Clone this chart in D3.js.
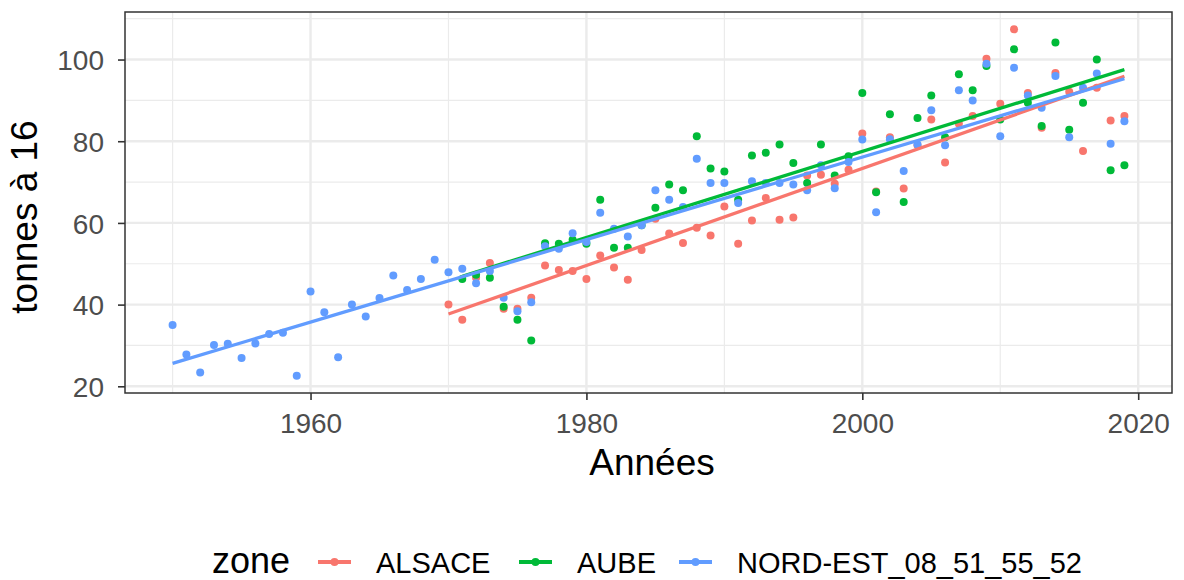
<!DOCTYPE html>
<html>
<head>
<meta charset="utf-8">
<script src="https://cdn.jsdelivr.net/npm/d3@7"></script>
<style>
  body { margin: 0; background: #fff; }
  text { font-family: "Liberation Sans", Arial, sans-serif; }
</style>
</head>
<body>
<svg id="chart" width="1184" height="580"></svg>
<script>
// years and values
const yearsAlsace = d3.range(1970, 2020);
const alsace = [40.0, 36.3, 46.6, 50.2, 39.0, 39.0, 41.7, 49.6, 48.5, 48.2,
  46.3, 52.0, 49.1, 46.1, 53.4, 61.0, 57.4, 55.1, 58.8, 56.9,
  64.0, 54.9, 60.6, 66.1, 60.8, 61.3, 71.6, 71.8, 69.6, 73.0,
  81.9, 67.7, 81.0, 68.4, 79.0, 85.3, 74.8, 84.3, 86.2, 100.2,
  89.2, 107.4, 91.8, 83.3, 96.7, 92.1, 77.6, 93.1, 85.1, 86.2];

const yearsAube = d3.range(1971, 2020);
const aube = [46.3, 47.3, 46.6, 39.5, 36.3, 31.2, 55.0, 54.9, 55.9,
  54.9, 65.7, 53.9, 53.9, 59.4, 63.7, 69.4, 68.0, 81.2, 73.3,
  72.6, 65.7, 76.5, 77.2, 79.2, 74.7, 69.8, 79.2, 71.6, 76.3,
  91.8, 67.5, 86.6, 65.1, 85.7, 91.2, 81.0, 96.4, 92.5, 98.4,
  85.3, 102.5, 89.4, 83.7, 104.2, 82.8, 89.4, 100.0, 72.9, 74.1];

const yearsNordEst = d3.range(1950, 2020);
const nordEst = [35.0, 27.8, 23.4, 30.1, 30.4, 26.9, 30.5, 32.8, 33.1, 22.6,
  43.2, 38.1, 27.1, 40.0, 37.1, 41.6, 47.1, 43.6, 46.3, 51.0,
  47.9, 48.8, 45.2, 48.2, 41.7, 38.4, 40.6, 54.3, 53.7, 57.5,
  55.3, 62.5, 58.6, 56.7, 59.4, 68.0, 65.7, 63.9, 75.7, 69.8,
  69.8, 64.9, 70.2, 69.8, 69.8, 69.4, 68.0, 74.1, 68.5, 74.9,
  80.4, 62.6, 80.5, 72.7, 79.2, 87.6, 79.0, 92.5, 90.0, 99.0,
  81.2, 98.0, 91.2, 88.2, 96.0, 81.0, 93.1, 96.6, 79.4, 84.9];

const zones = ["ALSACE", "AUBE", "NORD-EST_08_51_55_52"];
const colors = ["#F8766D", "#00BA38", "#619CFF"];
const xTicks = [1960, 1980, 2000, 2020];
const yTicks = [20, 40, 60, 80, 100];

const series = [
  { zone: zones[0], pts: yearsAlsace.map((yr, i) => ({ x: yr, y: alsace[i] })) },
  { zone: zones[1], pts: yearsAube.map((yr, i) => ({ x: yr, y: aube[i] })) },
  { zone: zones[2], pts: yearsNordEst.map((yr, i) => ({ x: yr, y: nordEst[i] })) }
];

const svg = d3.select("#chart");
const pLeft = 125, pRight = 1172, pTop = 12, pBottom = 393;

const allPts = series.flatMap(s => s.pts);
const xExt = d3.extent(allPts, d => d.x), yExt = d3.extent(allPts, d => d.y);
const xPad = (xExt[1] - xExt[0]) * 0.05, yPad = (yExt[1] - yExt[0]) * 0.05;
const x = d3.scaleLinear().domain([xExt[0] - xPad, xExt[1] + xPad]).range([pLeft, pRight]);
const y = d3.scaleLinear().domain([yExt[0] - yPad, yExt[1] + yPad]).range([pBottom, pTop]);
const color = d3.scaleOrdinal().domain(zones).range(colors);

// grid
const g = svg.append("g");
const xMinor = [1950, 1970, 1990, 2010], yMinor = [30, 50, 70, 90, 110];
g.selectAll(".xm").data(xMinor).enter().append("line")
  .attr("x1", d => x(d)).attr("x2", d => x(d)).attr("y1", pTop).attr("y2", pBottom)
  .attr("stroke", "#ebebeb").attr("stroke-width", 1.2);
g.selectAll(".ym").data(yMinor.filter(v => y(v) > pTop)).enter().append("line")
  .attr("y1", d => y(d)).attr("y2", d => y(d)).attr("x1", pLeft).attr("x2", pRight)
  .attr("stroke", "#ebebeb").attr("stroke-width", 1.2);
g.selectAll(".xM").data(xTicks).enter().append("line")
  .attr("x1", d => x(d)).attr("x2", d => x(d)).attr("y1", pTop).attr("y2", pBottom)
  .attr("stroke", "#ebebeb").attr("stroke-width", 2.4);
g.selectAll(".yM").data(yTicks).enter().append("line")
  .attr("y1", d => y(d)).attr("y2", d => y(d)).attr("x1", pLeft).attr("x2", pRight)
  .attr("stroke", "#ebebeb").attr("stroke-width", 2.4);

// points
series.forEach(s => {
  svg.append("g").selectAll("circle").data(s.pts).enter().append("circle")
    .attr("cx", d => x(d.x)).attr("cy", d => y(d.y)).attr("r", 4)
    .attr("fill", color(s.zone));
});

// linear fits
series.forEach(s => {
  const mx = d3.mean(s.pts, d => d.x), my = d3.mean(s.pts, d => d.y);
  const b = d3.sum(s.pts, d => (d.x - mx) * (d.y - my)) / d3.sum(s.pts, d => (d.x - mx) ** 2);
  const a = my - b * mx;
  const ends = d3.extent(s.pts, d => d.x).map(v => ({ x: v, y: a + b * v }));
  svg.append("path").datum(ends)
    .attr("d", d3.line().x(d => x(d.x)).y(d => y(d.y)))
    .attr("fill", "none").attr("stroke", color(s.zone)).attr("stroke-width", 3.3);
});

// border
svg.append("rect").attr("x", pLeft).attr("y", pTop).attr("width", pRight - pLeft).attr("height", pBottom - pTop)
  .attr("fill", "none").attr("stroke", "#333").attr("stroke-width", 1.5);

// axes
const xAxis = svg.append("g").attr("transform", `translate(0,${pBottom})`)
  .call(d3.axisBottom(x).tickValues(xTicks).tickFormat(d3.format("d")).tickSize(7).tickPadding(4));
const yAxis = svg.append("g").attr("transform", `translate(${pLeft},0)`)
  .call(d3.axisLeft(y).tickValues(yTicks).tickSize(7).tickPadding(14));
[xAxis, yAxis].forEach(ax => {
  ax.select(".domain").remove();
  ax.selectAll(".tick line").attr("stroke", "#333").attr("stroke-width", 1.6);
  ax.selectAll(".tick text").attr("fill", "#4d4d4d").style("font-size", "28px")
    .style("font-family", "'Liberation Sans', Arial, sans-serif");
});
xAxis.selectAll(".tick text").attr("y", 0).attr("dy", 0)
  .attr("transform", "translate(0,40)");
yAxis.selectAll(".tick text").attr("dy", "0.36em");

svg.append("text").attr("x", 652).attr("y", 475).attr("text-anchor", "middle")
  .style("font-size", "37px").text("Années");
svg.append("text").attr("transform", "translate(37,217) rotate(-90)")
  .attr("text-anchor", "middle").style("font-size", "37px").text("tonnes à 16");

// legend
const leg = svg.append("g").attr("transform", "translate(0,562)");
leg.append("text").attr("x", 212).attr("y", 11).style("font-size", "36px").text("zone");
const keyX = [318, 519, 679];
zones.forEach((z, i) => {
  const k = leg.append("g").attr("transform", `translate(${keyX[i]},0)`);
  k.append("line").attr("x1", 0).attr("x2", 33).attr("y1", 0).attr("y2", 0)
    .attr("stroke", color(z)).attr("stroke-width", 4);
  k.append("circle").attr("cx", 16.5).attr("cy", 0).attr("r", 4).attr("fill", color(z));
  k.append("text").attr("x", 58).attr("y", 11).style("font-size", "29px").text(z);
});
</script>
</body>
</html>
